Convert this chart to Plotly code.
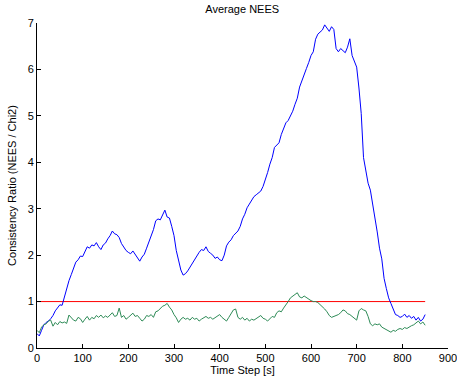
import plotly.graph_objects as go

t = list(range(0, 851, 5))

nees_blue = [
    0.31, 0.26, 0.38, 0.50, 0.55, 0.58, 0.63, 0.70, 0.80, 0.88,
    0.93, 0.92, 1.10, 1.30, 1.45, 1.58, 1.72, 1.85, 1.90, 1.98,
    1.97, 2.08, 2.18, 2.15, 2.22, 2.20, 2.27, 2.18, 2.12, 2.22,
    2.26, 2.35, 2.42, 2.52, 2.46, 2.44, 2.38, 2.25, 2.18, 2.10,
    2.06, 2.03, 2.09, 2.02, 1.95, 1.87, 1.96, 2.02, 2.15, 2.28,
    2.40, 2.55, 2.74, 2.78, 2.76, 2.86, 2.97, 2.82, 2.80, 2.62,
    2.42, 2.10, 1.85, 1.68, 1.57, 1.60, 1.66, 1.74, 1.83, 1.90,
    2.00, 2.06, 2.12, 2.10, 2.18, 2.08, 2.04, 2.00, 1.93, 1.96,
    1.90, 1.88, 2.00, 2.20, 2.28, 2.33, 2.42, 2.47, 2.52, 2.62,
    2.78, 2.88, 3.02, 3.10, 3.18, 3.26, 3.30, 3.34, 3.38, 3.48,
    3.62, 3.78, 3.96, 4.10, 4.32, 4.36, 4.42, 4.60, 4.72, 4.85,
    4.90, 4.99, 5.10, 5.25, 5.38, 5.62, 5.76, 5.92, 6.02, 6.15,
    6.30, 6.38, 6.65, 6.76, 6.80, 6.85, 6.96, 6.90, 6.82, 6.92,
    6.86, 6.45, 6.38, 6.45, 6.40, 6.36, 6.48, 6.66, 6.30, 6.15,
    6.05, 5.60, 5.05, 4.10, 3.85, 3.55, 3.40, 3.05, 2.80, 2.50,
    2.15, 1.92, 1.50, 1.28, 1.08, 0.96, 0.85, 0.72, 0.70, 0.66,
    0.68, 0.73, 0.66, 0.70, 0.64, 0.68, 0.60, 0.66, 0.58, 0.62,
    0.72,
]

nees_green = [
    0.38, 0.33, 0.45, 0.50, 0.52, 0.58, 0.60, 0.47, 0.55, 0.50,
    0.57, 0.54, 0.56, 0.53, 0.71, 0.66, 0.60, 0.58, 0.66, 0.63,
    0.55, 0.62, 0.68, 0.60, 0.66, 0.63, 0.70, 0.66, 0.71, 0.65,
    0.69, 0.66, 0.72, 0.76, 0.68, 0.70, 0.86, 0.66, 0.70, 0.62,
    0.66, 0.70, 0.75, 0.68, 0.70, 0.64, 0.58, 0.62, 0.70, 0.68,
    0.72, 0.66, 0.78, 0.80, 0.86, 0.90, 0.92, 0.96, 0.88, 0.82,
    0.72, 0.65, 0.55, 0.62, 0.66, 0.62, 0.64, 0.60, 0.66, 0.62,
    0.64, 0.58, 0.62, 0.66, 0.68, 0.64, 0.66, 0.62, 0.65, 0.68,
    0.72, 0.66, 0.62, 0.58, 0.66, 0.74, 0.82, 0.84, 0.66, 0.62,
    0.66, 0.60, 0.64, 0.58, 0.62, 0.60, 0.64, 0.68, 0.70, 0.64,
    0.62, 0.58, 0.64, 0.68, 0.66, 0.76, 0.80, 0.78, 0.86, 0.92,
    1.00, 1.08, 1.12, 1.16, 1.19, 1.10, 1.08, 1.12, 1.08, 1.04,
    1.02, 1.00, 1.00, 0.98, 0.94, 0.90, 0.84, 0.78, 0.70, 0.66,
    0.68, 0.70, 0.72, 0.76, 0.82, 0.80, 0.74, 0.72, 0.68, 0.64,
    0.60, 0.80, 0.85, 0.82, 0.80, 0.68, 0.52, 0.48, 0.52, 0.50,
    0.52, 0.45, 0.42, 0.40, 0.36, 0.34, 0.38, 0.36, 0.40, 0.42,
    0.40, 0.44, 0.42, 0.46, 0.48, 0.50, 0.54, 0.58, 0.52, 0.56,
    0.49,
]

ref_t = [0, 850]
ref_value = [1, 1]

x_ticks = [0, 100, 200, 300, 400, 500, 600, 700, 800, 900]
y_ticks = [0, 1, 2, 3, 4, 5, 6, 7]

font_family = "Liberation Sans, Arial, Helvetica, sans-serif"

fig = go.Figure()
fig.add_trace(go.Scatter(x=ref_t, y=ref_value, mode="lines",
                         line=dict(color="#ff0000", width=1), showlegend=False))
fig.add_trace(go.Scatter(x=t, y=nees_blue, mode="lines",
                         line=dict(color="#0000ff", width=1), showlegend=False))
fig.add_trace(go.Scatter(x=t, y=nees_green, mode="lines",
                         line=dict(color="#2e8b57", width=1), showlegend=False))

fig.update_layout(
    width=457, height=381,
    margin=dict(l=37, r=9, t=23, b=33),
    paper_bgcolor="white", plot_bgcolor="white",
    font=dict(family=font_family, size=11, color="black"),
    title=dict(text="Average NEES", x=0.53, xanchor="center", y=0.985, yanchor="top",
               font=dict(size=11)),
)
fig.update_xaxes(
    range=[0, 900], tickvals=x_ticks, ticks="inside", ticklen=4, tickcolor="black",
    showline=True, linecolor="black", linewidth=1, showgrid=False, zeroline=False,
    ticklabeloverflow="allow",
    title=dict(text="Time Step [s]", standoff=2, font=dict(size=11)),
    automargin=False,
)
fig.update_yaxes(
    range=[0, 7], tickvals=y_ticks, ticks="inside", ticklen=4, tickcolor="black",
    showline=True, linecolor="black", linewidth=1, showgrid=False, zeroline=False,
    ticklabeloverflow="allow",
    title=dict(text="Consistency Ratio (NEES / Chi2)", standoff=8, font=dict(size=11)),
    automargin=False,
)

fig.write_html("out.html", config={"displayModeBar": False},
               post_script="document.body.style.margin='0';")
